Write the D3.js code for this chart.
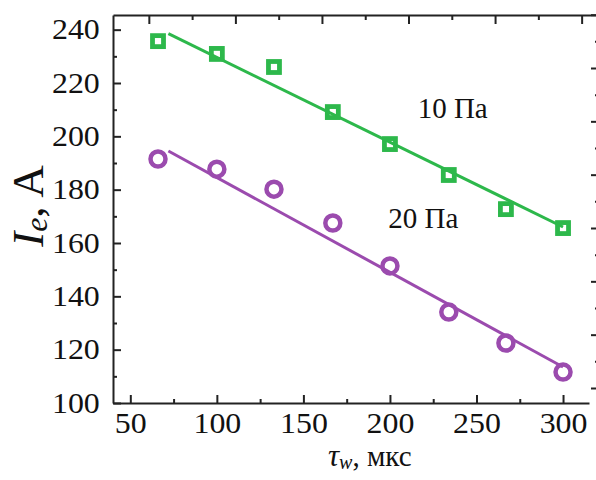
<!DOCTYPE html>
<html>
<head>
<meta charset="utf-8">
<script src="https://cdn.jsdelivr.net/npm/d3@7"></script>
<style>
  body { margin: 0; background: #fff; }
  svg { display: block; }
</style>
</head>
<body>
<svg id="chart" width="596" height="480"></svg>
<script>
// Pulse duration, µs
const tau = [66, 100, 133, 167, 200, 234, 267, 300];
// Electron current at 10 Pa and 20 Pa, A
const current10 = [235.7, 230.9, 226.0, 209.1, 197.1, 185.5, 172.7, 165.6];
const current20 = [191.5, 187.7, 180.2, 167.5, 151.4, 134.1, 122.5, 111.6];
// Linear fit end points
const fitTau = [72, 300];
const fit10 = [238.5, 166.0];
const fit20 = [194.5, 113.5];
// Axis ticks
const xMajor = [50, 100, 150, 200, 250, 300];
const xMinor = [75, 125, 175, 225, 275];
const yMajor = [100, 120, 140, 160, 180, 200, 220, 240];
const yMinor = [110, 130, 150, 170, 190, 210, 230];
const seriesNames = ["10 Па", "20 Па"];

const green = "#2db84b";
const purple = "#9b4bae";
const serif = "'Liberation Serif', 'Times New Roman', serif";

const svg = d3.select("#chart");

const x = d3.scaleLinear().domain([40, 315]).range([113, 589]);
const y = d3.scaleLinear().domain([100, 245.5]).range([403, 15]);
// Mirror axes of the frame (top and right) sit slightly shifted
const xTop = d3.scaleLinear().domain([29.3, 308.3]).range([113, 596]);
const yRight = d3.scaleLinear().domain([94.375, 239.875]).range([403, 15]);

function styleAxis(g) {
  g.select(".domain").attr("stroke", "#222").attr("stroke-width", 2);
  g.selectAll(".tick line").attr("stroke", "#222").attr("stroke-width", 2);
  g.selectAll(".tick text")
    .attr("fill", "#111")
    .style("font-family", serif)
    .style("font-size", "29px")
    .attr("transform", "scale(1.1,1)");
}

// Left axis
const gl = svg.append("g").attr("transform", `translate(${x.range()[0]},0)`)
  .call(d3.axisLeft(y).tickValues(yMajor).tickFormat(d3.format("d"))
    .tickSizeInner(-8).tickSizeOuter(0).tickPadding(12));
styleAxis(gl);
const glm = svg.append("g").attr("transform", `translate(${x.range()[0]},0)`)
  .call(d3.axisLeft(y).tickValues(yMinor).tickFormat("").tickSizeInner(-4).tickSizeOuter(0));
glm.select(".domain").remove();
styleAxis(glm);

// Bottom axis
const gb = svg.append("g").attr("transform", `translate(0,${y.range()[0]})`)
  .call(d3.axisBottom(x).tickValues(xMajor).tickFormat(d3.format("d"))
    .tickSizeInner(-8).tickSizeOuter(0).tickPadding(9));
styleAxis(gb);
const gbm = svg.append("g").attr("transform", `translate(0,${y.range()[0]})`)
  .call(d3.axisBottom(x).tickValues(xMinor).tickFormat("").tickSizeInner(-4).tickSizeOuter(0));
gbm.select(".domain").remove();
styleAxis(gbm);

// Top axis (ticks only)
const gt = svg.append("g").attr("transform", `translate(0,${y.range()[1]})`)
  .call(d3.axisTop(xTop).tickValues(xMajor).tickFormat("").tickSizeInner(-9).tickSizeOuter(0));
styleAxis(gt);
const gtm = svg.append("g").attr("transform", `translate(0,${y.range()[1]})`)
  .call(d3.axisTop(xTop).tickValues(xMinor).tickFormat("").tickSizeInner(-5).tickSizeOuter(0));
gtm.select(".domain").remove();
styleAxis(gtm);

// Right axis (ticks only)
const gr = svg.append("g").attr("transform", "translate(599,0)")
  .call(d3.axisRight(yRight).tickValues(yMajor).tickFormat("").tickSizeInner(-8).tickSizeOuter(0));
styleAxis(gr);
const grm = svg.append("g").attr("transform", "translate(599,0)")
  .call(d3.axisRight(yRight).tickValues(yMinor).tickFormat("").tickSizeInner(-4).tickSizeOuter(0));
grm.select(".domain").remove();
styleAxis(grm);

// Fit lines
const line = d3.line().x(d => x(d[0])).y(d => y(d[1]));
svg.append("path").datum(d3.zip(fitTau, fit10))
  .attr("d", line).attr("fill", "none").attr("stroke", green).attr("stroke-width", 3);
svg.append("path").datum(d3.zip(fitTau, fit20))
  .attr("d", line).attr("fill", "none").attr("stroke", purple).attr("stroke-width", 3);

// Square markers, 10 Pa
const side = 11;
svg.append("g").selectAll("rect").data(d3.zip(tau, current10)).join("rect")
  .attr("x", d => x(d[0]) - side / 2)
  .attr("y", d => y(d[1]) - side / 2)
  .attr("width", side).attr("height", side)
  .attr("fill", "none").attr("stroke", green).attr("stroke-width", 4.8);

// Circle markers, 20 Pa
svg.append("g").selectAll("circle").data(d3.zip(tau, current20)).join("circle")
  .attr("cx", d => x(d[0])).attr("cy", d => y(d[1])).attr("r", 7.5)
  .attr("fill", "none").attr("stroke", purple).attr("stroke-width", 4.5);

// Series labels
const labelAt = [[216, 206.9], [199, 165.6]];
svg.append("g").selectAll("text").data(seriesNames).join("text")
  .attr("x", (d, i) => x(labelAt[i][0]))
  .attr("y", (d, i) => y(labelAt[i][1]))
  .attr("fill", "#111")
  .style("font-family", serif).style("font-size", "29px")
  .text(d => d);

// Y axis title: I_e, A
const yt = svg.append("text")
  .attr("transform", "translate(43,206) rotate(-90)")
  .attr("text-anchor", "middle")
  .attr("fill", "#111")
  .style("font-family", serif).style("font-size", "45px");
yt.append("tspan").style("font-style", "italic").text("I");
yt.append("tspan").style("font-style", "italic").style("font-size", "32px").attr("dy", 4).text("e");
yt.append("tspan").attr("dy", -4).text(", A");

// X axis title: τ_w, мкс
const xt = svg.append("text")
  .attr("x", 328).attr("y", 466)
  .attr("fill", "#111")
  .style("font-family", serif).style("font-size", "29px");
xt.append("tspan").style("font-style", "italic").style("font-size", "31px").text("τ");
xt.append("tspan").style("font-style", "italic").style("font-size", "20px").attr("dy", 3).text("w");
xt.append("tspan").attr("dy", -3).text(",  мкс");
</script>
</body>
</html>
